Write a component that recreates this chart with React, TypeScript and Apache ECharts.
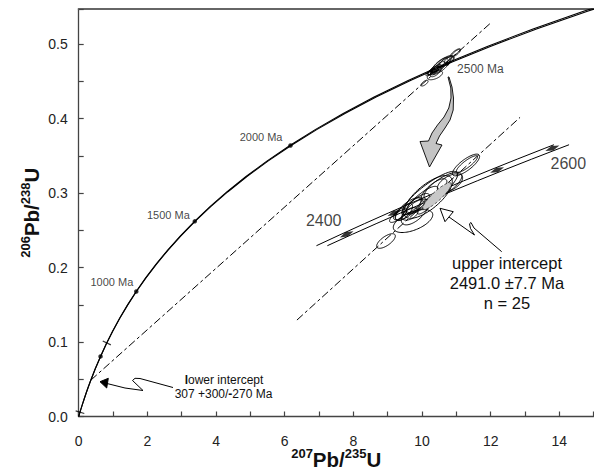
import React, { useEffect, useRef } from 'react';
import * as echarts from 'echarts';

const LAMBDA_238 = 1.55125e-10;
const LAMBDA_235 = 9.8485e-10;
const MAIN_BAND = 1.3e-12;
const INSET_BAND = 2.5e-12;

const concordiaAges = [0, 25, 50, 100, 150, 200, 250, 300, 400, 500, 600, 700, 800, 900, 1000, 1100, 1200, 1300, 1400, 1500, 1600, 1700, 1800, 1900, 2000, 2100, 2200, 2300, 2400, 2500, 2600, 2700, 2800, 2900];
const insetConcordiaAges = [2373, 2400, 2425, 2450, 2475, 2500, 2525, 2550, 2575, 2600, 2608];
const mainMarkerAges = [500, 1000, 1500, 2000, 2500];
const lowerErrorAges = [37, 607];
const insetMarkerAges = [2400, 2450, 2500, 2550, 2600];
const insetLabelAges = [2400, 2600];
const lowerInterceptAge = 307;
const upperInterceptAge = 2491;
const discordiaEndX = 12.03;
const insetDiscordiaX = [9.07, 11.58];
const insetDiscordiaY = [0.4055, 0.5132];

const ellipseX = [10.972, 10.983, 10.567, 10.545, 10.713, 10.376, 10.072, 10.320, 10.275, 10.365, 10.230, 10.432, 10.477, 10.342, 10.522, 10.792, 10.207, 10.398, 10.612];
const ellipseY = [0.4879, 0.4884, 0.4730, 0.4709, 0.4767, 0.4581, 0.4475, 0.4645, 0.4629, 0.4661, 0.4619, 0.4677, 0.4693, 0.4619, 0.4666, 0.4783, 0.4608, 0.4629, 0.4746];
const ellipseSx = [0.153, 0.119, 0.312, 0.273, 0.213, 0.222, 0.105, 0.145, 0.096, 0.116, 0.075, 0.129, 0.178, 0.092, 0.101, 0.142, 0.095, 0.154, 0.145];
const ellipseSy = [0.00577, 0.00442, 0.01153, 0.01135, 0.0073, 0.00609, 0.00388, 0.00599, 0.00454, 0.00473, 0.00318, 0.00504, 0.00725, 0.00332, 0.00475, 0.00492, 0.00341, 0.00682, 0.00599];
const ellipseRho = [0.79, 0.86, 0.86, 0.72, 0.74, 0.55, 0.69, 0.75, 0.66, 0.82, 0.59, 0.76, 0.83, 0.47, 0.8, 0.55, 0.76, 0.64, 0.75];
const meanEllipse = [10.646, 0.4714, 0.16, 0.0071, 0.89];

const xTickLabels = ['0', '2', '4', '6', '8', '10', '12', '14'];
const yTickLabels = ['0.0', '0.1', '0.2', '0.3', '0.4', '0.5'];

const W = 594;
const H = 472;
const MAIN = { left: 78.7, right: 0.3, top: 9, bottom: 55.5 };
const X_MAX = 15;
const Y_MAX = 0.547;
const INSET = { left: 290, right: 0, top: 90, bottom: 142 };
const INSET_X = [8.992, 12.412];
const INSET_Y = [0.40022, 0.52774];
const FONT = "'Liberation Sans', Arial, Helvetica, sans-serif";
const INK = '#111';

const mainLabelLayout: Record<number, { align: string; offset: number[]; size: number }> = {
  1000: { align: 'right', offset: [-3, -9], size: 11 },
  1500: { align: 'right', offset: [-5, -6], size: 11 },
  2000: { align: 'right', offset: [-8, -8.5], size: 11 },
  2500: { align: 'left', offset: [10, 5.5], size: 12 },
};
const insetLabelLayout: Record<number, number[]> = {
  2400: [-23, -14],
  2600: [16, 15],
};

function concordia(tMa: number, l235 = LAMBDA_235): number[] {
  return [Math.expm1(l235 * tMa * 1e6), Math.expm1(LAMBDA_238 * tMa * 1e6)];
}
function tangentDeg(tMa: number, pxX: number, pxY: number): number {
  const t = tMa * 1e6;
  const s = (LAMBDA_238 * Math.exp(LAMBDA_238 * t)) / (LAMBDA_235 * Math.exp(LAMBDA_235 * t));
  return (Math.atan((s * pxY) / pxX) * 180) / Math.PI;
}

const ellipseData = ellipseX.map((x, i) => [x, ellipseY[i], ellipseSx[i], ellipseSy[i], ellipseRho[i]]);

function ellipseRenderer(style: any) {
  return (params: any, api: any) => {
    const cx = api.value(0);
    const cy = api.value(1);
    const sx = api.value(2);
    const sy = api.value(3);
    const r = api.value(4);
    const pts: number[][] = [];
    const n = 90;
    for (let i = 0; i <= n; i++) {
      const a = (i / n) * Math.PI * 2;
      const x = cx + sx * Math.cos(a);
      const y = cy + sy * (r * Math.cos(a) + Math.sqrt(1 - r * r) * Math.sin(a));
      pts.push(api.coord([x, y]));
    }
    return { type: 'polygon', shape: { points: pts }, style };
  };
}

const axisNameRich = {
  b: { fontSize: 20.5, lineHeight: 18, fontWeight: 'bold', fontFamily: FONT, color: INK },
  s: { fontSize: 13, lineHeight: 12, fontWeight: 'bold', fontFamily: FONT, color: INK, padding: [0, 0, 12, 0] },
};

export default function App() {
  const ref = useRef<HTMLDivElement>(null);

  useEffect(() => {
    if (!ref.current) return;
    const chart = echarts.init(ref.current, null, { renderer: 'svg' });

    const pxX = (W - MAIN.left - MAIN.right) / X_MAX;
    const pxY = (H - MAIN.top - MAIN.bottom) / Y_MAX;
    const insetPxX = (W - INSET.left - INSET.right) / (INSET_X[1] - INSET_X[0]);
    const insetPxY = (H - INSET.top - INSET.bottom) / (INSET_Y[1] - INSET_Y[0]);

    const li = concordia(lowerInterceptAge);
    const ui = concordia(upperInterceptAge);
    const slope = (ui[1] - li[1]) / (ui[0] - li[0]);
    const discordiaMain = [li, [discordiaEndX, li[1] + slope * (discordiaEndX - li[0])]];

    const bandLine = (ages: number[], sign: number, xi: number, w: number, band: number) => ({
      type: 'line',
      xAxisIndex: xi,
      yAxisIndex: xi,
      data: ages.map((t) => concordia(t, LAMBDA_235 + sign * band)),
      showSymbol: false,
      symbol: 'none',
      silent: true,
      lineStyle: { color: '#000', width: w },
      z: 3,
    });

    const dashStyle = { color: '#000', width: 1, type: [8, 3, 3, 3] };
    const labelBase = { fontFamily: FONT, textBorderWidth: 0, textShadowBlur: 0 };

    const option: any = {
      animation: false,
      backgroundColor: '#fff',
      grid: [
        { left: MAIN.left, right: MAIN.right, top: MAIN.top, bottom: MAIN.bottom, containLabel: false, outerBoundsMode: 'none' },
        { left: INSET.left, right: INSET.right, top: INSET.top, bottom: INSET.bottom, containLabel: false, outerBoundsMode: 'none' },
      ],
      xAxis: [
        {
          gridIndex: 0,
          type: 'value',
          min: 0,
          max: X_MAX,
          interval: 1,
          name: '{s|207}{b|Pb/}{s|235}{b|U}',
          nameLocation: 'middle',
          nameGap: 34,
          nameMoveOverlap: false,
          nameTextStyle: { rich: axisNameRich },
          axisLine: { show: true, onZero: false, lineStyle: { color: '#444', width: 1.3 } },
          axisTick: { show: true, inside: true, length: 5, lineStyle: { color: '#444', width: 1.2 } },
          axisLabel: {
            margin: 17,
            fontSize: 14,
            fontFamily: FONT,
            color: '#222',
            formatter: (v: number) => {
              const s = String(Math.round(v));
              return xTickLabels.includes(s) && Math.abs(v - Math.round(v)) < 1e-9 ? s : '';
            },
          },
          splitLine: { show: false },
        },
        { gridIndex: 1, type: 'value', min: INSET_X[0], max: INSET_X[1], show: false, splitLine: { show: false } },
        {
          gridIndex: 0,
          type: 'value',
          position: 'top',
          min: 0,
          max: X_MAX,
          axisLine: { show: true, onZero: false, lineStyle: { color: '#666', width: 2 } },
          axisTick: { show: false },
          axisLabel: { show: false },
          splitLine: { show: false },
        },
      ],
      yAxis: [
        {
          gridIndex: 0,
          type: 'value',
          min: 0,
          max: Y_MAX,
          interval: 0.05,
          name: '{s|206}{b|Pb/}{s|238}{b|U}',
          nameLocation: 'middle',
          nameRotate: 90,
          nameGap: 38,
          nameMoveOverlap: false,
          nameTextStyle: { rich: axisNameRich },
          axisLine: { show: true, onZero: false, lineStyle: { color: '#444', width: 1.3 } },
          axisTick: { show: true, inside: true, length: 5, lineStyle: { color: '#444', width: 1.2 } },
          axisLabel: {
            margin: 11,
            fontSize: 14,
            fontFamily: FONT,
            color: '#222',
            formatter: (v: number) => {
              const s = (Math.round(v * 10) / 10).toFixed(1);
              return Math.abs(v * 10 - Math.round(v * 10)) < 1e-6 && yTickLabels.includes(s) ? s : '';
            },
          },
          splitLine: { show: false },
        },
        { gridIndex: 1, type: 'value', min: INSET_Y[0], max: INSET_Y[1], show: false, splitLine: { show: false } },
      ],
      series: [
        bandLine(concordiaAges, -1, 0, 1.1, MAIN_BAND),
        bandLine(concordiaAges, 1, 0, 1.1, MAIN_BAND),
        {
          type: 'line',
          xAxisIndex: 0,
          yAxisIndex: 0,
          data: discordiaMain,
          showSymbol: false,
          symbol: 'none',
          lineStyle: dashStyle,
          z: 2,
        },
        {
          type: 'custom',
          coordinateSystem: 'cartesian2d',
          xAxisIndex: 0,
          yAxisIndex: 0,
          encode: { x: 0, y: 1 },
          data: ellipseData,
          renderItem: ellipseRenderer({ fill: 'none', stroke: '#000', lineWidth: 0.9 }),
          z: 4,
        },
        {
          type: 'scatter',
          xAxisIndex: 0,
          yAxisIndex: 0,
          symbolSize: 4.5,
          itemStyle: { color: '#000' },
          z: 5,
          data: mainMarkerAges.map((t) => {
            const lay = mainLabelLayout[t];
            return {
              value: concordia(t),
              label: lay
                ? {
                    ...labelBase,
                    show: true,
                    position: 'inside',
                    formatter: `${t} Ma`,
                    align: lay.align,
                    verticalAlign: 'middle',
                    offset: lay.offset,
                    fontSize: lay.size,
                    color: '#111',
                  }
                : { show: false },
            };
          }),
        },
        {
          type: 'scatter',
          xAxisIndex: 0,
          yAxisIndex: 0,
          symbol: 'rect',
          symbolSize: [1.2, 9],
          itemStyle: { color: '#000' },
          z: 5,
          data: lowerErrorAges.map((t) => ({ value: concordia(t), symbolRotate: tangentDeg(t, pxX, pxY) })),
        },
        bandLine(insetConcordiaAges, -1, 1, 1, INSET_BAND),
        bandLine(insetConcordiaAges, 1, 1, 1, INSET_BAND),
        {
          type: 'line',
          xAxisIndex: 1,
          yAxisIndex: 1,
          data: [
            [insetDiscordiaX[0], insetDiscordiaY[0]],
            [insetDiscordiaX[1], insetDiscordiaY[1]],
          ],
          showSymbol: false,
          symbol: 'none',
          lineStyle: dashStyle,
          z: 2,
        },
        {
          type: 'scatter',
          xAxisIndex: 1,
          yAxisIndex: 1,
          symbol: 'diamond',
          symbolSize: [15, 5],
          itemStyle: { color: '#000' },
          z: 5,
          data: insetMarkerAges.map((t) => ({
            value: concordia(t),
            symbolRotate: tangentDeg(t, insetPxX, insetPxY),
            label: insetLabelAges.includes(t)
              ? {
                  ...labelBase,
                  show: true,
                  position: 'inside',
                  formatter: String(t),
                  align: 'center',
                  verticalAlign: 'middle',
                  offset: insetLabelLayout[t],
                  fontSize: 16,
                  color: INK,
                }
              : { show: false },
          })),
        },
        {
          type: 'custom',
          coordinateSystem: 'cartesian2d',
          xAxisIndex: 1,
          yAxisIndex: 1,
          encode: { x: 0, y: 1 },
          data: ellipseData,
          renderItem: ellipseRenderer({ fill: 'none', stroke: '#000', lineWidth: 1 }),
          z: 6,
        },
        {
          type: 'custom',
          coordinateSystem: 'cartesian2d',
          xAxisIndex: 1,
          yAxisIndex: 1,
          encode: { x: 0, y: 1 },
          data: [meanEllipse],
          renderItem: ellipseRenderer({ fill: '#c8c8c8', stroke: '#333', lineWidth: 0.9, lineDash: [3, 2] }),
          z: 7,
        },
      ],
      graphic: [
        {
          type: 'polygon',
          z: 100,
          shape: {
            points: [
              [448, 77], [450.8, 88], [451, 98], [448.8, 108], [444, 117], [437.5, 125], [432, 133], [428.5, 141],
              [420, 141.5], [429.5, 167], [442, 145], [436, 143.5], [439.5, 136], [445, 128], [450, 120],
              [453.2, 110], [453.5, 98], [452, 87], [449, 77],
            ],
          },
          style: { fill: '#c4c4c4', stroke: '#000', lineWidth: 0.9 },
        },
        {
          type: 'polyline',
          z: 100,
          shape: { points: [[501.7, 251.7], [474, 228], [471, 222.5], [469.5, 223.8], [470.5, 228.5], [474.5, 235], [449, 217]] },
          style: { stroke: '#000', fill: 'none', lineWidth: 1 },
        },
        {
          type: 'polygon',
          z: 101,
          shape: { points: [[440, 208.3], [453.3, 211.7], [445, 221.7]] },
          style: { fill: '#fff', stroke: '#000', lineWidth: 1 },
        },
        {
          type: 'polyline',
          z: 100,
          shape: { points: [[173, 387.5], [140, 378.5], [135, 378.3], [132.5, 380.5], [143, 390.5], [125, 388], [107, 383.5]] },
          style: { stroke: '#000', fill: 'none', lineWidth: 1 },
        },
        {
          type: 'polygon',
          z: 101,
          shape: { points: [[100, 381.7], [108.3, 378.3], [106.7, 388]] },
          style: { fill: '#000', stroke: '#000', lineWidth: 1 },
        },
        {
          type: 'text',
          z: 102,
          x: 507,
          y: 253.3,
          style: {
            text: 'upper intercept\n2491.0 ±7.7 Ma\nn = 25',
            fontSize: 16.5,
            fontFamily: FONT,
            fill: INK,
            align: 'center',
            textAlign: 'center',
            verticalAlign: 'top',
            textVerticalAlign: 'top',
            lineHeight: 20,
          },
        },
        {
          type: 'text',
          z: 102,
          x: 224,
          y: 380,
          style: {
            text: '{b|l}ower intercept',
            fontSize: 12,
            fontFamily: FONT,
            fill: INK,
            align: 'center',
            textAlign: 'center',
            verticalAlign: 'middle',
            textVerticalAlign: 'middle',
            rich: { b: { fontWeight: 'bold', fontSize: 12, fontFamily: FONT, fill: INK } },
          },
        },
        {
          type: 'text',
          z: 102,
          x: 223.5,
          y: 394.3,
          style: {
            text: '307 +300/{b|-}270 Ma',
            fontSize: 12,
            fontFamily: FONT,
            fill: INK,
            align: 'center',
            textAlign: 'center',
            verticalAlign: 'middle',
            textVerticalAlign: 'middle',
            rich: { b: { fontWeight: 'bold', fontSize: 12, fontFamily: FONT, fill: INK } },
          },
        },
      ],
    };

    chart.setOption(option);
    return () => chart.dispose();
  }, []);

  return <div ref={ref} style={{ position: 'fixed', left: 0, top: 0, width: W, height: H, background: '#fff' }} />;
}
